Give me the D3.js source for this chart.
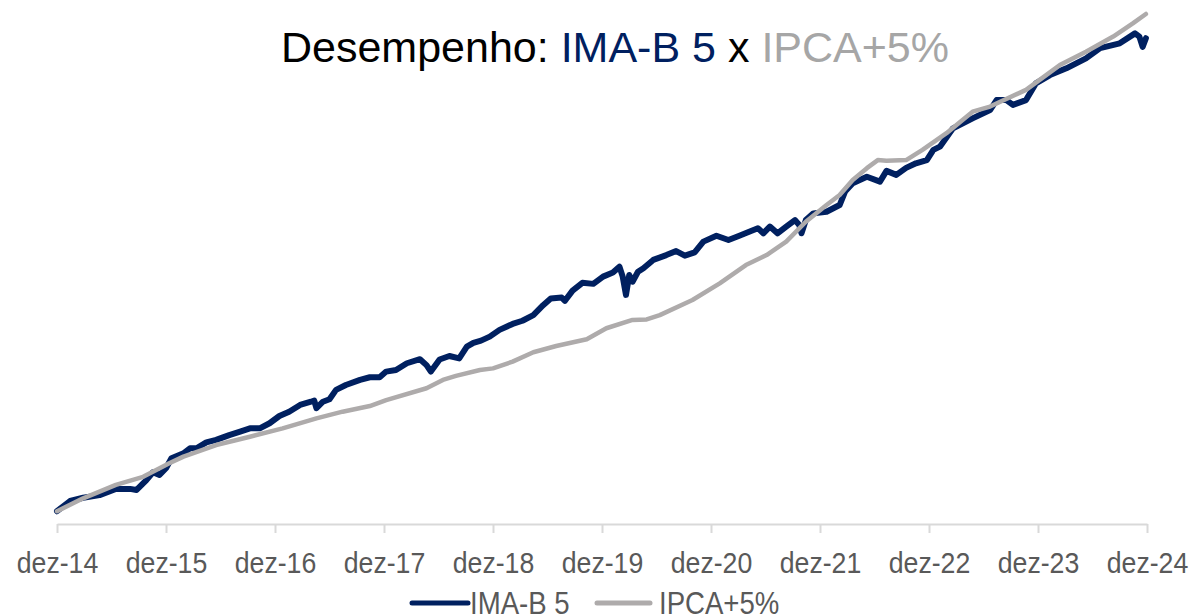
<!DOCTYPE html>
<html>
<head>
<meta charset="utf-8">
<script src="https://cdn.jsdelivr.net/npm/d3@7"></script>
<style>
  body { margin: 0; background: #fff; }
  #chart text { font-family: "Liberation Sans", Arial, sans-serif; }
</style>
</head>
<body>
<div id="chart"></div>
<script>
var width = 1190;
var height = 615;

// x values are decimal years (dez-14 = 2014.92)
var imaYears = [2014.92, 2015.04, 2015.16, 2015.31, 2015.46, 2015.59, 2015.65, 2015.74, 2015.80, 2015.86,
  2015.92, 2015.97, 2016.08, 2016.14, 2016.20, 2016.29, 2016.38, 2016.50, 2016.60, 2016.69,
  2016.78, 2016.87, 2016.96, 2017.05, 2017.15, 2017.25, 2017.28, 2017.30, 2017.36, 2017.42,
  2017.48, 2017.57, 2017.70, 2017.79, 2017.88, 2017.94, 2018.03, 2018.13, 2018.25, 2018.31,
  2018.35, 2018.43, 2018.52, 2018.61, 2018.68, 2018.74, 2018.81, 2018.89, 2018.98, 2019.10,
  2019.19, 2019.29, 2019.38, 2019.45, 2019.55, 2019.58, 2019.65, 2019.74, 2019.84, 2019.93,
  2020.02, 2020.08, 2020.11, 2020.14, 2020.17, 2020.20, 2020.25, 2020.30, 2020.39, 2020.51,
  2020.60, 2020.68, 2020.77, 2020.85, 2020.97, 2021.08, 2021.18, 2021.27, 2021.35, 2021.40,
  2021.46, 2021.53, 2021.61, 2021.69, 2021.73, 2021.75, 2021.79, 2021.86, 2021.98, 2022.10,
  2022.15, 2022.22, 2022.35, 2022.47, 2022.53, 2022.62, 2022.71, 2022.80, 2022.90, 2022.96,
  2023.02, 2023.14, 2023.32, 2023.48, 2023.54, 2023.63, 2023.69, 2023.81, 2023.90, 2024.03,
  2024.18, 2024.36, 2024.49, 2024.67, 2024.81, 2024.85, 2024.88, 2024.91];

var imaValues = [100.0, 103.8, 105.0, 106.0, 108.3, 108.3, 107.9, 111.6, 114.5, 113.5,
  116.0, 119.7, 121.5, 123.4, 123.4, 125.6, 126.5, 128.3, 129.6, 130.8,
  130.8, 132.7, 135.4, 137.0, 139.5, 140.7, 141.1, 138.3, 140.7, 141.6,
  145.1, 146.9, 148.8, 149.8, 149.8, 151.9, 152.5, 155.0, 156.5, 154.3,
  151.9, 156.4, 157.7, 156.8, 161.2, 162.6, 163.4, 164.9, 167.4, 169.6,
  170.8, 172.9, 176.6, 179.1, 179.4, 178.2, 182.0, 184.9, 184.5, 187.2,
  188.7, 190.9, 187.2, 180.4, 187.8, 185.3, 189.0, 190.3, 193.4, 195.2,
  196.7, 195.0, 196.2, 200.2, 202.4, 200.8, 202.4, 203.9, 205.2, 203.3,
  205.8, 203.3, 205.8, 208.2, 206.4, 203.3, 208.2, 210.7, 211.3, 213.8,
  218.8, 221.9, 224.3, 222.5, 226.5, 225.0, 227.6, 229.3, 230.5, 234.3,
  235.5, 242.3, 246.0, 249.1, 252.8, 252.8, 251.0, 252.8, 259.0, 262.1,
  264.6, 268.3, 272.1, 273.9, 277.6, 276.4, 272.6, 275.8];

var ipcaYears = [2014.92, 2015.16, 2015.46, 2015.71, 2015.95, 2016.08, 2016.38, 2016.69, 2016.99, 2017.30,
  2017.54, 2017.79, 2017.94, 2018.31, 2018.46, 2018.58, 2018.80, 2018.92, 2019.10, 2019.29,
  2019.50, 2019.78, 2019.96, 2020.20, 2020.33, 2020.45, 2020.75, 2021.00, 2021.24, 2021.43,
  2021.61, 2021.79, 2021.98, 2022.10, 2022.22, 2022.35, 2022.45, 2022.53, 2022.71, 2022.86,
  2023.08, 2023.32, 2023.48, 2023.81, 2024.12, 2024.36, 2024.61, 2024.79, 2024.91];

var ipcaValues = [100.0, 104.8, 109.8, 112.8, 117.8, 120.3, 124.6, 127.7, 130.8, 134.5,
  137.0, 139.1, 141.3, 145.7, 148.8, 150.3, 152.5, 153.1, 155.6, 159.1,
  161.4, 163.9, 168.0, 171.1, 171.3, 172.9, 178.5, 184.7, 191.5, 195.2,
  200.2, 207.6, 213.8, 217.5, 223.1, 227.5, 230.5, 230.3, 230.5, 234.3,
  240.5, 248.5, 250.4, 256.6, 265.8, 270.8, 276.4, 281.3, 284.8];

var tickYears = [2014.92, 2015.92, 2016.92, 2017.92, 2018.92, 2019.92, 2020.92, 2021.92, 2022.92, 2023.92, 2024.92];
var tickLabels = ["dez-14", "dez-15", "dez-16", "dez-17", "dez-18", "dez-19", "dez-20", "dez-21", "dez-22", "dez-23", "dez-24"];

var navy = "#002060";
var grey = "#aeabab";
// narrow look of the original labels
var squeeze = 0.89;

var svg = d3.select("#chart")
  .append("svg")
  .attr("width", width)
  .attr("height", height);

var xScale = d3.scaleLinear()
  .domain([2014.92, 2024.92])
  .range([57, 1147]);

var yScale = d3.scaleLinear()
  .domain([96, 290])
  .range([522, 0]);

// title
var title = svg.append("text")
  .attr("x", 615)
  .attr("y", 62)
  .attr("text-anchor", "middle")
  .style("font-size", "43px");
title.append("tspan").attr("fill", "#000").text("Desempenho: ");
title.append("tspan").attr("fill", navy).text("IMA-B 5");
title.append("tspan").attr("fill", "#000").text(" x ");
title.append("tspan").attr("fill", "#a6a6a6").text("IPCA+5%");

// x axis
var xAxis = d3.axisBottom(xScale)
  .tickValues(tickYears)
  .tickFormat(function(d, i) { return tickLabels[i]; })
  .tickSize(9)
  .tickSizeOuter(0)
  .tickPadding(19);

var gx = svg.append("g")
  .attr("class", "xAxis")
  .attr("transform", "translate(0,524)")
  .call(xAxis);
gx.select(".domain").attr("stroke", "#d9d9d9").attr("stroke-width", 2);
gx.selectAll(".tick line").attr("stroke", "#d9d9d9").attr("stroke-width", 2);
gx.selectAll(".tick text")
  .attr("fill", "#595959")
  .attr("transform", "scale(" + squeeze + ",1)")
  .style("font-size", "30px");

function makeLine(xs) {
  return d3.line()
    .x(function(d, i) { return xScale(xs[i]); })
    .y(function(d) { return yScale(d); });
}

svg.append("path")
  .datum(imaValues)
  .attr("d", makeLine(imaYears))
  .attr("fill", "none")
  .attr("stroke", navy)
  .attr("stroke-width", 6)
  .attr("stroke-linejoin", "round")
  .attr("stroke-linecap", "round");

svg.append("path")
  .datum(ipcaValues)
  .attr("d", makeLine(ipcaYears))
  .attr("fill", "none")
  .attr("stroke", grey)
  .attr("stroke-width", 4.5)
  .attr("stroke-linejoin", "round")
  .attr("stroke-linecap", "round");

// legend
var legend = svg.append("g").attr("class", "legend");
var legItems = [
  { name: "IMA-B 5", color: navy, x1: 412, x2: 468, tx: 470 },
  { name: "IPCA+5%", color: grey, x1: 597, x2: 650, tx: 659 }
];
legItems.forEach(function(d) {
  legend.append("line")
    .attr("x1", d.x1).attr("x2", d.x2)
    .attr("y1", 603).attr("y2", 603)
    .attr("stroke", d.color)
    .attr("stroke-width", 5)
    .attr("stroke-linecap", "round");
  legend.append("text")
    .attr("transform", "translate(" + d.tx + ",614) scale(" + squeeze + ",1)")
    .attr("fill", "#595959")
    .style("font-size", "31px")
    .text(d.name);
});
</script>
</body>
</html>
